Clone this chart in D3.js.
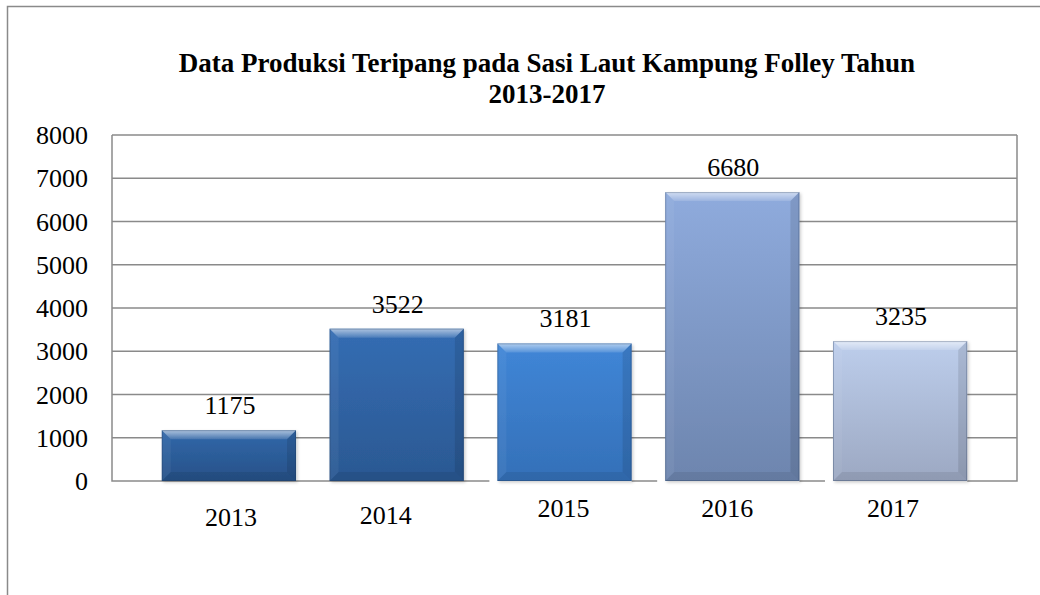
<!DOCTYPE html>
<html>
<head>
<meta charset="utf-8">
<script src="https://cdnjs.cloudflare.com/ajax/libs/d3/7.8.5/d3.min.js"></script>
</head>
<body style="margin:0">
<script>
// chart values
var years = ["2013", "2014", "2015", "2016", "2017"];
var production = [1175, 3522, 3181, 6680, 3235];
var yTicks = [0, 1000, 2000, 3000, 4000, 5000, 6000, 7000, 8000];
var titleLines = ["Data Produksi Teripang pada Sasi Laut Kampung Folley Tahun", "2013-2017"];

// bar colours, top / bottom of the face
var faceTop = ["#3168aa", "#346db3", "#4086d7", "#8fabdd", "#bdceec"];
var faceBottom = ["#275188", "#2b5892", "#3470b8", "#6d85ae", "#9ca8c2"];
// category labels were pasted slightly off in the original
var labelNudge = [[2, 9], [-11, 7], [-1, 0], [-5, 0], [-7, 0]];

var width = 1040, height = 595;
var plot = { left: 112, right: 1017, top: 135, bottom: 481 };
var bevel = 9;
var gridColor = "#8a8a8a";

var svg = d3.select("body").append("svg")
  .attr("width", width)
  .attr("height", height)
  .style("font-family", "'Liberation Serif'");

var defs = svg.append("defs");

var y = d3.scaleLinear()
  .domain([0, 8000])
  .range([plot.bottom, plot.top]);

var x = d3.scaleBand()
  .domain(years)
  .range([145, 984])
  .paddingInner(0.2)
  .paddingOuter(0.1);

// outer frame (only left and top edges show)
svg.append("path")
  .attr("d", "M7.5," + height + "V6.5H" + width)
  .attr("fill", "none")
  .attr("stroke", gridColor)
  .attr("stroke-width", 1.5);

// title
svg.selectAll("text.title")
  .data(titleLines)
  .enter()
  .append("text")
  .attr("class", "title")
  .attr("x", 547)
  .attr("y", function(d, i) { return 72 + i * 31; })
  .attr("text-anchor", "middle")
  .attr("font-size", 27)
  .attr("font-weight", "bold")
  .style("font-family", "'Liberation Serif'")
  .text(function(d) { return d; });

// gridlines
svg.selectAll("line.grid")
  .data(yTicks.slice(1))
  .enter()
  .append("line")
  .attr("class", "grid")
  .attr("x1", plot.left)
  .attr("x2", plot.right)
  .attr("y1", function(d) { return y(d); })
  .attr("y2", function(d) { return y(d); })
  .attr("stroke", gridColor)
  .attr("stroke-width", 1.5);

// left and right plot edges + baseline
svg.append("path")
  .attr("d", "M" + plot.left + "," + plot.top + "V" + plot.bottom + "H" + plot.right + "V" + plot.top)
  .attr("fill", "none")
  .attr("stroke", gridColor)
  .attr("stroke-width", 1.5);

// white patches on the baseline (as in the reference image)
svg.selectAll("rect.patch")
  .data(years.slice(2))
  .enter()
  .append("rect")
  .attr("class", "patch")
  .attr("x", function(d) { return x(d) - 8; })
  .attr("y", plot.bottom - 3)
  .attr("width", x.bandwidth() + 8)
  .attr("height", 8)
  .attr("fill", "#fff");

// y tick labels
svg.selectAll("text.ytick")
  .data(yTicks)
  .enter()
  .append("text")
  .attr("class", "ytick")
  .attr("x", 88)
  .attr("y", function(d) { return y(d) + 9; })
  .attr("text-anchor", "end")
  .attr("font-size", 26)
  .style("font-family", "'Liberation Serif'")
  .text(function(d) { return d; });

// gradients
years.forEach(function(yr, i) {
  var g = defs.append("linearGradient")
    .attr("id", "face" + i)
    .attr("x1", 0).attr("y1", 0).attr("x2", 0).attr("y2", 1);
  g.append("stop").attr("offset", "0%").attr("stop-color", faceTop[i]);
  g.append("stop").attr("offset", "100%").attr("stop-color", faceBottom[i]);
});
var hl = defs.append("linearGradient")
  .attr("id", "topHi")
  .attr("x1", 0).attr("y1", 0).attr("x2", 0).attr("y2", 1);
hl.append("stop").attr("offset", "0%").attr("stop-color", "#fff").attr("stop-opacity", 0.6);
hl.append("stop").attr("offset", "100%").attr("stop-color", "#fff").attr("stop-opacity", 0.12);

var shadow = defs.append("filter").attr("id", "shadow")
  .attr("x", "-10%").attr("y", "-10%").attr("width", "130%").attr("height", "130%");
shadow.append("feDropShadow")
  .attr("dx", 1.5).attr("dy", 1.5).attr("stdDeviation", 1.5)
  .attr("flood-color", "#000").attr("flood-opacity", 0.2);

// bars
var bars = svg.selectAll("g.bar")
  .data(production)
  .enter()
  .append("g")
  .attr("class", "bar");

bars.each(function(v, i) {
  var g = d3.select(this);
  var x0 = x(years[i]), x1 = x0 + x.bandwidth();
  var y0 = y(v), y1 = y(0);
  var b = bevel;
  g.append("rect")
    .attr("x", x0).attr("y", y0)
    .attr("width", x1 - x0).attr("height", y1 - y0)
    .attr("fill", "url(#face" + i + ")")
    .attr("filter", "url(#shadow)");
  // top bevel
  g.append("polygon")
    .attr("points", [[x0, y0], [x1, y0], [x1 - b, y0 + b], [x0 + b, y0 + b]].join(" "))
    .attr("fill", "url(#topHi)");
  // left bevel
  g.append("polygon")
    .attr("points", [[x0, y0], [x0 + b, y0 + b], [x0 + b, y1 - b], [x0, y1]].join(" "))
    .attr("fill", "#fff").attr("fill-opacity", 0.05);
  // right bevel
  g.append("polygon")
    .attr("points", [[x1, y0], [x1 - b, y0 + b], [x1 - b, y1 - b], [x1, y1]].join(" "))
    .attr("fill", "#000").attr("fill-opacity", 0.1);
  // bottom bevel
  g.append("polygon")
    .attr("points", [[x0, y1], [x0 + b, y1 - b], [x1 - b, y1 - b], [x1, y1]].join(" "))
    .attr("fill", "#000").attr("fill-opacity", 0.08);
  g.append("rect")
    .attr("x", x0 + 0.5).attr("y", y0 + 0.5)
    .attr("width", x1 - x0 - 1).attr("height", y1 - y0 - 1)
    .attr("fill", "none")
    .attr("stroke", "#1d3557").attr("stroke-opacity", 0.3);
});

// value labels
svg.selectAll("text.value")
  .data(production)
  .enter()
  .append("text")
  .attr("class", "value")
  .attr("x", function(d, i) { return x(years[i]) + x.bandwidth() / 2 + 1; })
  .attr("y", function(d) { return y(d) - 16; })
  .attr("text-anchor", "middle")
  .attr("font-size", 26)
  .style("font-family", "'Liberation Serif'")
  .text(function(d) { return d; });

// category labels
svg.selectAll("text.xlabel")
  .data(years)
  .enter()
  .append("text")
  .attr("class", "xlabel")
  .attr("x", function(d, i) { return x(d) + x.bandwidth() / 2 + labelNudge[i][0]; })
  .attr("y", function(d, i) { return 517 + labelNudge[i][1]; })
  .attr("text-anchor", "middle")
  .attr("font-size", 26)
  .style("font-family", "'Liberation Serif'")
  .text(function(d) { return d; });
</script>
</body>
</html>
